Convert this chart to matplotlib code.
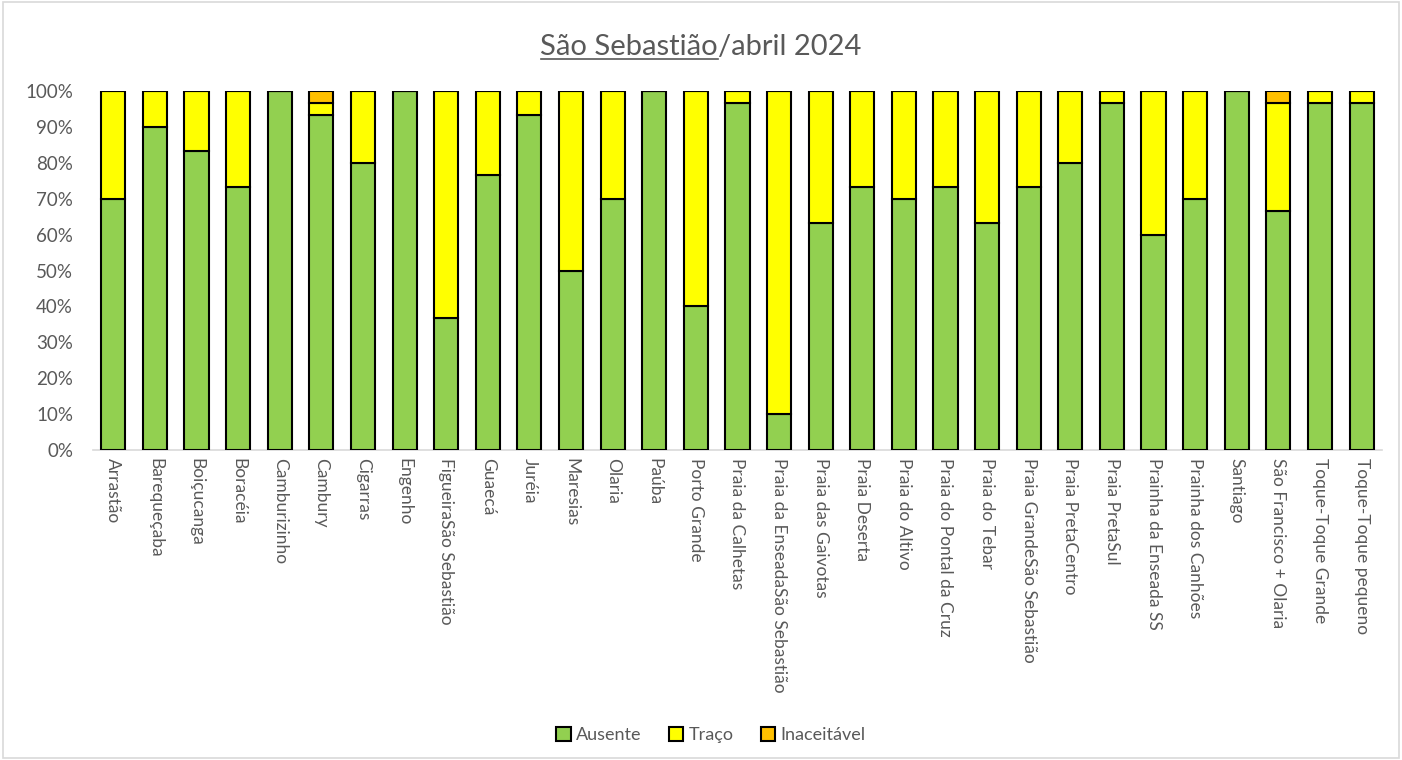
import matplotlib
matplotlib.use("Agg")
import matplotlib.pyplot as plt
import numpy as np
from matplotlib.lines import Line2D
from matplotlib.patches import Rectangle

plt.rcParams['font.family'] = ['Lato', 'DejaVu Sans']

# Praias de São Sebastião - abril 2024 (30 coletas)
praias = ['Arrastão', 'Barequeçaba', 'Boiçucanga', 'Boracéia', 'Camburizinho',
          'Cambury', 'Cigarras', 'Engenho', 'FigueiraSão Sebastião', 'Guaecá',
          'Juréia', 'Maresias', 'Olaria', 'Paúba', 'Porto Grande',
          'Praia da Calhetas', 'Praia da EnseadaSão Sebastião', 'Praia das Gaivotas',
          'Praia Deserta', 'Praia do Altivo', 'Praia do Pontal da Cruz',
          'Praia do Tebar', 'Praia GrandeSão Sebastião', 'Praia PretaCentro',
          'Praia PretaSul', 'Prainha da Enseada SS', 'Prainha dos Canhões',
          'Santiago', 'São Francisco + Olaria', 'Toque-Toque Grande',
          'Toque-Toque pequeno']
ausente = [70, 90, 83.3, 73.3, 100, 93.3, 80, 100, 36.7, 76.7,
           93.3, 50, 70, 100, 40, 96.7, 10, 63.3, 73.3, 70,
           73.3, 63.3, 73.3, 80, 96.7, 60, 70, 100, 66.7, 96.7, 96.7]
inaceitavel = [0, 0, 0, 0, 0, 3.3, 0, 0, 0, 0,
               0, 0, 0, 0, 0, 0, 0, 0, 0, 0,
               0, 0, 0, 0, 0, 0, 0, 0, 3.3, 0, 0]
traco = [100 - a - i for a, i in zip(ausente, inaceitavel)]

cores = {'Ausente': '#92d050', 'Traço': '#ffff00', 'Inaceitável': '#ffc000'}
cinza = '#595959'

fig = plt.figure(figsize=(14.02, 7.60), dpi=100)
ax = fig.add_axes([0.066, 0.408, 0.920, 0.472])

x = np.arange(len(praias))
w = 0.58
kw = dict(width=w, edgecolor='black', linewidth=1.5, zorder=3)
ax.bar(x, ausente, color=cores['Ausente'], label='Ausente', **kw)
ax.bar(x, traco, bottom=ausente, color=cores['Traço'], label='Traço', **kw)
base2 = [a + t for a, t in zip(ausente, traco)]
ax.bar(x, inaceitavel, bottom=base2, color=cores['Inaceitável'], label='Inaceitável', **kw)

ax.set_xlim(-0.5, len(praias) - 0.5)
ax.set_ylim(0, 100)
ax.set_yticks(np.arange(0, 101, 10))
ax.set_yticklabels([f'{v}%' for v in range(0, 101, 10)], fontsize=13.5, color=cinza)
ax.set_xticks(x)
ax.set_xticklabels(praias, rotation=-90, fontsize=12.5, color=cinza, va='top', ha='center')
ax.tick_params(axis='x', length=0, pad=6)
ax.tick_params(axis='y', length=0, pad=14)
for s in ['top', 'right', 'left']:
    ax.spines[s].set_visible(False)
ax.spines['bottom'].set_color('#d9d9d9')
ax.spines['bottom'].set_linewidth(1.2)

# legenda
handles = [Rectangle((0, 0), 1, 1, facecolor=cores[k], edgecolor='black', linewidth=1.5)
           for k in cores]
fig.legend(handles, list(cores), loc='center', bbox_to_anchor=(0.507, 0.033), ncol=3,
           frameon=False, fontsize=13, labelcolor=cinza, handlelength=0.8,
           handleheight=0.8, handletextpad=0.3, columnspacing=1.5)

# titulo com "São Sebastião" sublinhado
t1 = fig.text(0.5, 0.938, 'São Sebastião', fontsize=21, color=cinza, ha='right', va='center')
t2 = fig.text(0.5, 0.938, '/abril 2024', fontsize=21, color=cinza, ha='left', va='center')
fig.canvas.draw()
r = fig.canvas.get_renderer()
b1 = t1.get_window_extent(r)
b2 = t2.get_window_extent(r)
shift = (b1.width - b2.width) / 2 / fig.bbox.width
t1.set_x(0.5 + shift)
t2.set_x(0.5 + shift)
fig.canvas.draw()
b1 = t1.get_window_extent(r)
fx0, fx1 = b1.x0 / fig.bbox.width, b1.x1 / fig.bbox.width
fy = (b1.y0 + 1) / fig.bbox.height
fig.add_artist(Line2D([fx0, fx1], [fy, fy], color=cinza, linewidth=1.2))

# borda
fig.add_artist(Rectangle((0.002, 0.002), 0.996, 0.996, transform=fig.transFigure,
                         fill=False, edgecolor='#d9d9d9', linewidth=1.2))

fig.savefig('out.png', dpi=100)
